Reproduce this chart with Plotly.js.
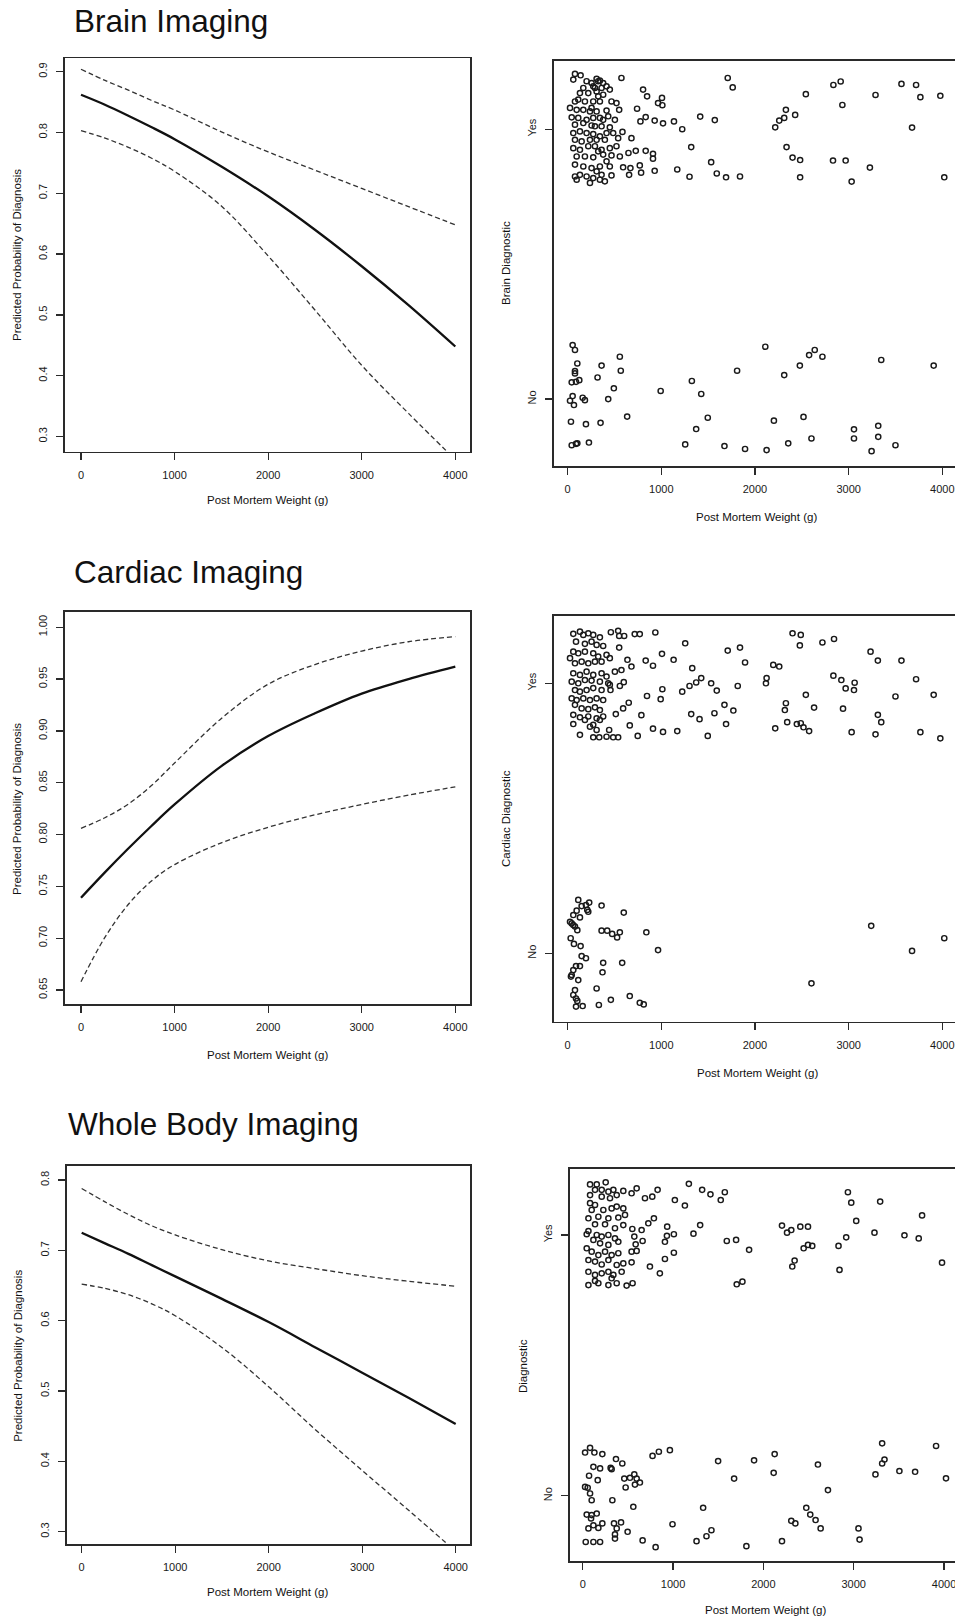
<!DOCTYPE html>
<html>
<head>
<meta charset="utf-8">
<script src="https://cdn.plot.ly/plotly-3.0.1.min.js"></script>
<style>
html,body{margin:0;padding:0;overflow:hidden;background:#fff;}
#chart{width:960px;height:1621px;}
</style>
</head>
<body>
<div id="chart"></div>
<script>
// ---------------- DATA ----------------
const panelTitles = ["Brain Imaging", "Cardiac Imaging", "Whole Body Imaging"];
const xAxisTitle = "Post Mortem Weight (g)";
const yAxisTitleLeft = "Predicted Probability of Diagnosis";
const yAxisTitlesRight = ["Brain Diagnostic", "Cardiac Diagnostic", "Diagnostic"];
const weightTicks = [0, 1000, 2000, 3000, 4000];
const diagTickVals = [1, 2];
const diagTickText = ["No", "Yes"];
const brainProbTicks = [0.3, 0.4, 0.5, 0.6, 0.7, 0.8, 0.9];
const cardiacProbTicks = [0.65, 0.70, 0.75, 0.80, 0.85, 0.90, 0.95, 1.00];
const wholeProbTicks = [0.3, 0.4, 0.5, 0.6, 0.7, 0.8];

const weightGrid = [0, 250, 500, 750, 1000, 1500, 2000, 2500, 3000, 3500, 4000];

const brainFit   = [0.862,0.846,0.828,0.809,0.789,0.744,0.695,0.640,0.580,0.516,0.448];
const brainUpper = [0.904,0.886,0.870,0.853,0.837,0.801,0.768,0.738,0.708,0.678,0.648];
const brainLower = [0.803,0.791,0.776,0.758,0.736,0.679,0.597,0.508,0.417,0.338,0.262];

const cardiacFit   = [0.739,0.763,0.786,0.808,0.829,0.866,0.895,0.917,0.936,0.950,0.962];
const cardiacUpper = [0.806,0.816,0.829,0.847,0.869,0.912,0.945,0.964,0.977,0.986,0.991];
const cardiacLower = [0.658,0.700,0.732,0.755,0.771,0.792,0.807,0.819,0.829,0.838,0.846];

const wholeFit   = [0.725,0.710,0.695,0.679,0.663,0.631,0.598,0.562,0.526,0.490,0.453];
const wholeUpper = [0.788,0.769,0.751,0.735,0.722,0.701,0.685,0.674,0.664,0.656,0.649];
const wholeLower = [0.652,0.646,0.637,0.624,0.607,0.562,0.506,0.445,0.387,0.330,0.272];

// Brain: jittered observations (weight g, jittered outcome: 1 = No, 2 = Yes)
const brainYesX = [574,1709,1762,805,848,1007,965,1011,741,550,2330,2259,2312,2216,777,833,929,1018,1135,1223,1415,1571,1319,2337,1532,911,911,833,727,649,681,585,770,670,592,656,784,929,1170,1301,1592,1691,1840,
 78,138,60,202,255,309,344,379,415,450,273,167,131,220,309,379,113,78,184,273,344,468,521,25,96,167,238,309,415,43,113,202,273,344,433,504,78,167,255,362,450,60,131,202,273,344,415,486,78,149,238,309,397,539,60,131,220,291,362,450,521,96,184,273,379,468,557,78,167,255,344,450,78,131,202,273,344,397,468,96,238,
 326,291,362,326,255,379,291,326,415,309,362,
 2401,2429,2482,2482,2543,2837,2915,2933,3287,3564,3720,3766,3979,3677,2833,2968,3032,3227,4021];
const brainYesY = [2.190,2.190,2.155,2.147,2.122,2.116,2.097,2.089,2.076,2.072,2.072,2.032,2.042,2.007,2.029,2.045,2.032,2.022,2.029,2.000,2.047,2.034,1.934,1.934,1.878,1.909,1.891,1.920,1.920,1.912,1.967,1.990,1.866,1.856,1.859,1.831,1.839,1.846,1.851,1.824,1.836,1.822,1.825,
 2.205,2.200,2.184,2.178,2.171,2.187,2.180,2.171,2.159,2.147,2.159,2.153,2.134,2.134,2.140,2.128,2.110,2.103,2.103,2.103,2.103,2.103,2.097,2.079,2.072,2.072,2.066,2.066,2.069,2.044,2.042,2.035,2.042,2.042,2.048,2.035,2.017,2.023,2.014,2.011,2.007,1.986,1.992,1.986,1.982,1.974,1.986,1.986,1.961,1.955,1.961,1.961,1.961,1.967,1.930,1.924,1.937,1.937,1.924,1.930,1.937,1.899,1.899,1.896,1.906,1.903,1.899,1.869,1.862,1.856,1.862,1.862,1.825,1.831,1.825,1.819,1.813,1.807,1.829,1.813,1.801,
 2.178,2.153,2.153,2.122,2.079,2.035,2.011,1.918,1.881,1.844,1.831,
 1.895,2.053,1.886,1.822,2.130,2.164,2.177,2.090,2.127,2.168,2.164,2.119,2.124,2.006,1.884,1.884,1.806,1.858,1.822];
const brainNoX = [53,78,103,78,78,43,89,124,362,557,567,319,493,53,25,67,160,184,433,635,35,195,351,43,89,103,227,993,1326,1372,1255,
 1426,1496,1674,1894,1809,2110,2124,2202,2312,2355,2479,2518,2578,2638,2720,2603,3057,3057,3316,3316,3348,3245,3500,3908];
const brainNoY = [1.200,1.182,1.132,1.104,1.095,1.062,1.064,1.070,1.124,1.157,1.105,1.080,1.040,1.011,0.994,0.978,1.005,0.996,1.000,0.935,0.916,0.907,0.912,0.829,0.834,0.836,0.839,1.030,1.067,0.889,0.832,
 1.019,0.931,0.826,0.815,1.105,1.194,0.811,0.920,1.089,0.836,1.124,0.934,1.163,1.182,1.157,0.854,0.888,0.854,0.901,0.860,1.145,0.807,0.829,1.124];

// Cardiac
const cardiacYesX = [461,539,550,603,716,770,936,1255,1709,1840,1894,2195,2259,2124,2117,550,638,681,833,911,1131,1007,1330,504,574,599,557,457,1426,1372,1301,1223,1532,1592,1816,1011,847,993,652,592,514,787,1319,1408,1567,1674,1769,1691,2330,2319,2344,2216,663,911,1018,1170,1496,748,539,486,415,
 60,131,167,220,273,344,89,184,255,309,379,60,113,184,273,326,415,450,25,78,149,220,291,362,60,131,202,273,362,415,43,113,184,255,344,433,78,131,202,273,362,450,43,96,167,238,309,379,78,149,220,291,344,60,131,220,309,379,60,184,273,344,131,273,337,309,443,238,
 2401,2489,2479,2720,2844,3234,3312,3564,2837,2922,2968,3057,3064,3720,3908,3500,2543,2631,2940,3312,3348,2447,2489,2518,2578,3032,3287,3766,3979];
const cardiacYesY = [2.189,2.194,2.175,2.175,2.182,2.182,2.188,2.148,2.121,2.132,2.077,2.068,2.062,2.019,2.000,2.132,2.087,2.062,2.084,2.065,2.087,2.109,2.056,2.043,2.049,2.004,1.990,1.975,2.019,2.003,1.990,1.969,2.000,1.973,1.990,1.978,1.953,1.941,1.928,1.907,1.886,1.882,1.886,1.867,1.889,1.920,1.899,1.849,1.926,1.901,1.856,1.833,1.844,1.832,1.820,1.823,1.805,1.805,1.800,1.800,1.802,
 2.183,2.191,2.179,2.185,2.179,2.170,2.154,2.146,2.154,2.142,2.138,2.117,2.111,2.117,2.111,2.099,2.105,2.093,2.093,2.074,2.080,2.074,2.080,2.080,2.037,2.031,2.043,2.031,2.037,2.025,2.006,2.000,2.012,2.010,2.006,2.000,1.975,1.969,1.975,1.982,1.975,1.994,1.944,1.938,1.944,1.938,1.944,1.938,1.920,1.907,1.904,1.911,1.901,1.883,1.874,1.877,1.870,1.877,1.849,1.864,1.846,1.864,1.809,1.800,1.800,1.827,1.827,1.839,
 2.185,2.179,2.140,2.151,2.164,2.117,2.084,2.084,2.028,2.012,1.981,1.975,2.002,2.015,1.957,1.951,1.957,1.910,1.906,1.883,1.856,1.849,1.852,1.837,1.823,1.819,1.811,1.819,1.796];
const cardiacNoX = [113,230,195,209,220,149,96,60,362,599,131,25,43,60,78,103,362,422,475,528,557,840,32,67,138,965,149,195,379,582,89,131,60,43,35,372,113,78,309,60,89,103,89,160,333,461,663,770,812,
 3241,3677,4021,2603];
const cardiacNoY = [1.198,1.188,1.179,1.161,1.154,1.175,1.158,1.142,1.177,1.151,1.133,1.117,1.111,1.105,1.099,1.086,1.084,1.084,1.072,1.059,1.078,1.078,1.056,1.035,1.027,1.012,0.990,0.982,0.965,0.965,0.953,0.953,0.938,0.920,0.914,0.930,0.901,0.864,0.870,0.846,0.833,0.824,0.803,0.805,0.809,0.828,0.842,0.817,0.811,
 1.102,1.009,1.056,0.889];

// Whole body
const wholeYesX = [597,541,689,770,829,1020,1131,1175,1322,1414,1573,1528,788,726,652,549,571,663,586,597,541,541,935,932,1009,910,1009,910,744,854,1300,1226,1595,1698,1842,2206,1705,1768,552,486,
 81,155,254,339,376,210,136,284,449,81,210,302,81,136,99,228,376,449,320,173,63,284,394,468,247,136,357,449,63,44,155,210,284,357,118,192,284,394,44,99,173,247,320,394,63,136,210,284,376,449,63,136,210,284,339,431,63,173,284,376,320,136,
 2262,2309,2409,2494,2446,2494,2541,2346,2320,2936,2973,3293,3028,3230,2917,2832,2843,3562,3720,3757,3978];
const wholeYesY = [2.179,2.160,2.141,2.147,2.173,2.134,2.113,2.196,2.173,2.156,2.164,2.134,2.064,2.045,2.019,2.023,1.994,1.977,1.964,1.939,1.936,1.895,2.032,1.997,2.003,1.974,1.932,1.908,1.879,1.853,2.038,2.005,1.977,1.981,1.943,2.036,1.811,1.821,1.815,1.806,
 2.194,2.194,2.202,2.173,2.153,2.173,2.173,2.166,2.169,2.153,2.147,2.141,2.122,2.115,2.096,2.096,2.109,2.102,2.102,2.070,2.064,2.064,2.067,2.077,2.041,2.041,2.026,2.038,2.015,2.003,2.000,1.994,2.000,1.987,1.981,1.968,1.962,1.974,1.949,1.936,1.923,1.936,1.923,1.930,1.904,1.898,1.887,1.904,1.885,1.891,1.859,1.847,1.853,1.859,1.847,1.859,1.808,1.815,1.808,1.815,1.834,1.824,
 2.009,2.019,2.032,2.032,1.949,1.962,1.958,1.902,1.879,2.164,2.124,2.128,2.054,2.009,1.991,1.958,1.866,1.999,1.987,2.075,1.894];
const wholeNoX = [81,26,129,217,368,438,773,843,965,1499,1897,2125,118,192,309,320,460,523,571,597,633,578,475,70,166,26,55,81,99,328,1676,2114,560,1333,44,99,155,92,63,118,173,217,346,424,376,497,357,994,1425,1370,33,118,192,357,663,807,1260,1812,2206,
 2604,2715,2475,2519,2578,2634,2309,2354,3053,3065,3241,3315,3341,3315,3506,3680,3912,4022];
const wholeNoY = [1.184,1.166,1.166,1.160,1.141,1.124,1.153,1.169,1.175,1.133,1.136,1.160,1.111,1.105,1.107,1.102,1.066,1.069,1.082,1.066,1.051,1.043,1.032,1.077,1.060,1.034,1.031,1.009,0.983,0.983,1.066,1.088,0.958,0.954,0.928,0.926,0.932,0.913,0.875,0.887,0.877,0.894,0.894,0.898,0.875,0.862,0.852,0.891,0.868,0.845,0.823,0.823,0.823,0.836,0.829,0.803,0.826,0.807,0.826,
 1.120,1.022,0.954,0.928,0.907,0.875,0.904,0.894,0.875,0.832,1.082,1.124,1.139,1.201,1.095,1.092,1.191,1.067];

// ---------------- STYLE / BUILD ----------------
const W = 960, H = 1621;
const FONT = '"Liberation Sans", Arial, Helvetica, sans-serif';
const ink = '#1a1a1a';
const px = v => v / W;
const py = v => 1 - v / H;

function lineTrace(x, y, ax, solid) {
  return {
    type: 'scatter', mode: 'lines', x: x, y: y,
    xaxis: 'x' + ax, yaxis: 'y' + ax, hoverinfo: 'skip', showlegend: false,
    line: solid ? {color: '#111', width: 2.3, shape: 'spline', smoothing: 1}
                : {color: '#333', width: 1.3, dash: '5px,3px', shape: 'spline', smoothing: 1}
  };
}
function pointTrace(x, y, ax) {
  return {
    type: 'scatter', mode: 'markers', x: x, y: y,
    xaxis: 'x' + ax, yaxis: 'y' + ax, hoverinfo: 'skip', showlegend: false,
    marker: {symbol: 'circle-open', size: 5.2, color: ink, line: {width: 1.45, color: ink}}
  };
}

const traces = [
  lineTrace(weightGrid, brainUpper, '', false),
  lineTrace(weightGrid, brainLower, '', false),
  lineTrace(weightGrid, brainFit, '', true),
  pointTrace(brainYesX, brainYesY, '2'),
  pointTrace(brainNoX, brainNoY, '2'),
  lineTrace(weightGrid, cardiacUpper, '3', false),
  lineTrace(weightGrid, cardiacLower, '3', false),
  lineTrace(weightGrid, cardiacFit, '3', true),
  pointTrace(cardiacYesX, cardiacYesY, '4'),
  pointTrace(cardiacNoX, cardiacNoY, '4'),
  lineTrace(weightGrid, wholeUpper, '5', false),
  lineTrace(weightGrid, wholeLower, '5', false),
  lineTrace(weightGrid, wholeFit, '5', true),
  pointTrace(wholeYesX, wholeYesY, '6'),
  pointTrace(wholeNoX, wholeNoY, '6')
];

function axisBase() {
  return {
    showline: true, mirror: true, linecolor: '#2a2a2a', linewidth: 1.6,
    ticks: 'outside', ticklen: 7, tickwidth: 1.3, tickcolor: '#2a2a2a',
    showgrid: false, zeroline: false, fixedrange: true,
    tickfont: {family: FONT, size: 11, color: ink},
    ticklabelstandoff: 5
  };
}
function xAx(d0, d1, r0, r1, anchor) {
  return Object.assign(axisBase(), {
    domain: [px(d0), px(d1)], range: [r0, r1], anchor: anchor,
    tickmode: 'array', tickvals: weightTicks, tickformat: 'd'
  });
}
function yAx(top, bottom, r0, r1, anchor, vals, fmt, text) {
  const a = Object.assign(axisBase(), {
    domain: [py(bottom), py(top)], range: [r0, r1], anchor: anchor,
    tickmode: 'array', tickvals: vals, tickangle: -90
  });
  if (text) a.ticktext = text; else a.tickformat = fmt;
  return a;
}

function ann(text, x, y, size, angle, xanchor) {
  return {
    text: text, xref: 'paper', yref: 'paper', x: px(x), y: py(y),
    xanchor: xanchor || 'center', yanchor: 'middle', showarrow: false,
    textangle: angle || 0, font: {family: FONT, size: size, color: '#111'}
  };
}

const layout = {
  width: W, height: H,
  margin: {l: 0, r: 0, t: 0, b: 0, pad: 0},
  paper_bgcolor: '#fff', plot_bgcolor: '#fff',
  showlegend: false,
  xaxis:  xAx(65, 470, -171, 4157, 'y'),
  yaxis:  yAx(58.3, 451.7, 0.275, 0.922, 'x', brainProbTicks, '.1f'),
  xaxis2: xAx(554, 960, -146, 4189, 'y2'),
  yaxis2: yAx(60.7, 466, 0.752, 2.254, 'x2', diagTickVals, null, diagTickText),
  xaxis3: xAx(65, 470, -171, 4157, 'y3'),
  yaxis3: yAx(611.7, 1004, 0.6365, 1.015, 'x3', cardiacProbTicks, '.2f'),
  xaxis4: xAx(554, 960, -146, 4189, 'y4'),
  yaxis4: yAx(616, 1021.7, 0.747, 2.249, 'x4', diagTickVals, null, diagTickText),
  xaxis5: xAx(66.7, 470, -160, 4153, 'y5'),
  yaxis5: yAx(1166, 1544.3, 0.282, 0.82, 'x5', wholeProbTicks, '.1f'),
  xaxis6: xAx(570, 960, -141, 4177, 'y6'),
  yaxis6: yAx(1169, 1561, 0.75, 2.253, 'x6', diagTickVals, null, diagTickText),
  annotations: [
    ann(panelTitles[0], 71.7, 20.5, 31.5, 0, 'left'),
    ann(panelTitles[1], 71.7, 572, 31.5, 0, 'left'),
    ann(panelTitles[2], 66, 1124, 31.5, 0, 'left'),
    ann(xAxisTitle, 267.5, 500, 11.5),
    ann(yAxisTitleLeft, 17, 255, 11.5, -90),
    ann(xAxisTitle, 756.7, 516.7, 11.5),
    ann(yAxisTitlesRight[0], 506.7, 263.3, 11.5, -90),
    ann(xAxisTitle, 267.5, 1055, 11.5),
    ann(yAxisTitleLeft, 17, 809, 11.5, -90),
    ann(xAxisTitle, 757, 1072.7, 11.5),
    ann(yAxisTitlesRight[1], 506, 819, 11.5, -90),
    ann(xAxisTitle, 267.8, 1591.7, 11.5),
    ann(yAxisTitleLeft, 18, 1355.8, 11.5, -90),
    ann(xAxisTitle, 765.8, 1610, 11.5),
    ann(yAxisTitlesRight[2], 523.3, 1365.8, 11.5, -90)
  ]
};

Plotly.newPlot('chart', traces, layout, {staticPlot: true, displayModeBar: false});
</script>
</body>
</html>
